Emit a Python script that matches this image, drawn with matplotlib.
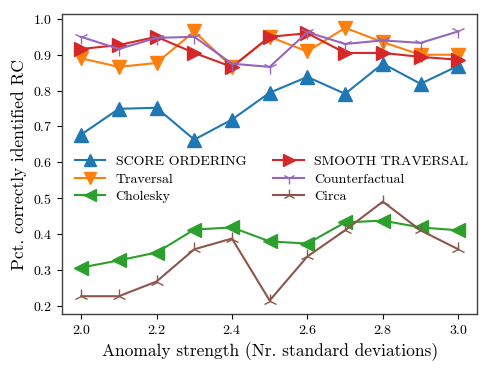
import numpy as np
import matplotlib
matplotlib.use("Agg")
import matplotlib.pyplot as plt

plt.rcParams['font.family'] = 'cmr10'
plt.rcParams['mathtext.fontset'] = 'cm'
plt.rcParams['axes.formatter.use_mathtext'] = True

strength = [2.0, 2.1, 2.2, 2.3, 2.4, 2.5, 2.6, 2.7, 2.8, 2.9, 3.0]

score_ordering   = [0.677, 0.749, 0.752, 0.663, 0.719, 0.794, 0.838, 0.791, 0.875, 0.819, 0.869]
traversal        = [0.890, 0.866, 0.877, 0.965, 0.866, 0.950, 0.909, 0.975, 0.935, 0.900, 0.900]
cholesky         = [0.306, 0.326, 0.348, 0.412, 0.418, 0.379, 0.373, 0.432, 0.437, 0.418, 0.410]
smooth_traversal = [0.916, 0.927, 0.950, 0.905, 0.866, 0.950, 0.960, 0.905, 0.905, 0.894, 0.886]
counterfactual   = [0.950, 0.916, 0.947, 0.950, 0.875, 0.866, 0.963, 0.930, 0.940, 0.933, 0.965]
circa            = [0.226, 0.226, 0.267, 0.357, 0.387, 0.214, 0.337, 0.410, 0.490, 0.410, 0.357]

series = [
    ("SCORE ORDERING", score_ordering, "^", "tab:blue"),
    ("Traversal", traversal, "v", "tab:orange"),
    ("Cholesky", cholesky, "<", "tab:green"),
    ("SMOOTH TRAVERSAL", smooth_traversal, ">", "tab:red"),
    ("Counterfactual", counterfactual, "1", "tab:purple"),
    ("Circa", circa, "2", "tab:brown"),
]

fig, ax = plt.subplots(figsize=(4.98, 3.74), dpi=100)
for name, vals, mk, col in series:
    if mk in ("1", "2"):
        ax.plot(strength, vals, marker=mk, color=col, lw=1.5, ms=10, mew=1.0, label=name)
    else:
        ax.plot(strength, vals, marker=mk, color=col, lw=1.5, ms=10, label=name)

ax.set_xticks([2.0, 2.2, 2.4, 2.6, 2.8, 3.0])
ax.set_yticks([0.2, 0.3, 0.4, 0.5, 0.6, 0.7, 0.8, 0.9, 1.0])
ax.tick_params(labelsize=10)
for s in ax.spines.values():
    s.set_color('0.25')
    s.set_linewidth(1.0)

ax.set_xlabel("Anomaly strength (Nr. standard deviations)", fontsize=12.5)
ax.set_ylabel("Pct. correctly identified RC", fontsize=12.5)

ax.legend(ncol=2, frameon=False, loc='center left', bbox_to_anchor=(0.0, 0.45),
          fontsize=10, handlelength=2.2, labelspacing=0.35, columnspacing=1.95,
          handletextpad=0.75, markerscale=0.85)

fig.subplots_adjust(left=0.125, right=0.958, bottom=0.16, top=0.962)
fig.savefig("out.png", dpi=100)
